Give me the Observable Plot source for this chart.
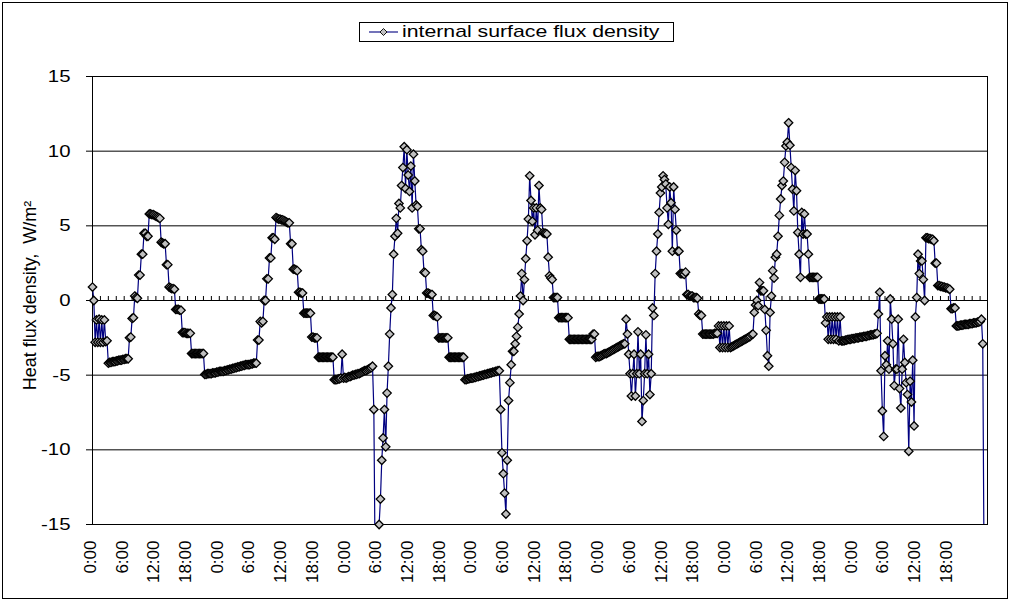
<!DOCTYPE html>
<html>
<head>
<meta charset="utf-8">
<script src="https://cdn.jsdelivr.net/npm/d3@7"></script>
<script src="https://cdn.jsdelivr.net/npm/@observablehq/plot@0.6"></script>
<style>
  html, body { margin: 0; padding: 0; background: #fff; }
  #chart { position: relative; width: 1010px; height: 602px; overflow: hidden;
           font-family: Arial, "Liberation Sans", sans-serif; }
  #chart > svg { position: absolute; left: 0; top: 0; }
  #border { position: absolute; left: 2px; top: 2px; width: 1006px; height: 597px;
            box-sizing: border-box; border: 1px solid #000; pointer-events: none; }
  #legend { position: absolute; left: 359px; top: 22px; width: 315px; height: 20px;
            box-sizing: border-box; border: 1px solid #000; background: #fff; }
  #legend svg { position: absolute; left: 0; top: 0; }
  #legend span { position: absolute; left: 42px; top: -1px; font-size: 17px; line-height: 20px;
                 white-space: nowrap; transform: scaleX(1.25); transform-origin: 0 50%; color: #000; }
</style>
</head>
<body>
<div id="chart">
  <div id="border"></div>
</div>
<script>
// ---- data: heat flux density (W/m²), one value every 15 minutes, per day ----
const sampleStepHours = 0.25;
const day1 = [
  0.9, 0, -2.8, -1.3, -2.8, -1.25, -2.8, -1.3,
  -2.8, -1.3, -2.75, -2.7, -4.2, -4.15, -4.15, -4.1,
  -4.1, -4.1, -4.05, -4.05, -4.0, -4.0, -4.0, -3.95,
  -3.95, -3.9, -3.9, -3.9, -2.5, -2.45, -1.2, -1.15,
  0.3, 0.2, 0.15, 1.7, 1.7, 3.1, 3.1, 4.5,
  4.5, 4.3, 4.3, 5.8, 5.8, 5.75, 5.75, 5.7,
  5.65, 5.6, 5.55, 5.5, 3.9, 3.85, 3.8, 3.8,
  2.4, 2.4, 0.9, 0.85, 0.8, 0.8, 0.75, -0.6,
  -0.6, -0.6, -0.65, -0.65, -2.15, -2.15, -2.15, -2.2,
  -2.2, -2.2, -2.2, -3.55, -3.55, -3.55, -3.55, -3.55,
  -3.55, -3.55, -3.55, -3.55, -3.55, -4.95, -4.95, -4.9,
  -4.9, -4.9, -4.9, -4.85, -4.85, -4.85, -4.8, -4.8];
const day2 = [
  -4.75, -4.75, -4.75, -4.75, -4.7, -4.7, -4.65, -4.65,
  -4.6, -4.6, -4.55, -4.55, -4.5, -4.5, -4.45, -4.45,
  -4.4, -4.4, -4.35, -4.35, -4.3, -4.3, -4.3, -4.3,
  -4.25, -4.25, -4.2, -4.2, -4.2, -2.65, -2.65, -1.4,
  -1.5, -1.4, 0, 0, 1.45, 1.45, 2.85, 2.85,
  4.2, 4.2, 4.1, 5.55, 5.5, 5.45, 5.45, 5.4,
  5.4, 5.35, 5.3, 5.25, 5.2, 5.2, 3.8, 3.8,
  2.1, 2.1, 2.05, 2.0, 0.55, 0.55, 0.5, 0.5,
  -0.85, -0.85, -0.85, -0.85, -0.85, -0.85, -2.45, -2.45,
  -2.5, -2.5, -2.5, -3.8, -3.8, -3.8, -3.8, -3.8,
  -3.8, -3.8, -3.8, -3.8, -3.8, -3.8, -3.8, -5.3,
  -5.3, -5.3, -5.25, -5.25, -5.2, -3.6, -5.2, -5.15];
const day3 = [
  -5.2, -5.15, -5.1, -5.1, -5.05, -5.0, -5.0, -4.95,
  -4.95, -4.9, -4.9, -4.85, -4.8, -4.75, -4.7, -4.7,
  -4.65, -4.6, -4.55, -4.5, -4.4, -7.3, -18, -18,
  -16, -15, -13.3, -10.7, -9.2, -7.3, -9.8, -6.2,
  -4.4, -2.25, -0.5, 0.4, 3.1, 4.3, 5.5, 4.5,
  6.5, 6.2, 7.7, 8.9, 10.3, 7.5, 10.1, 8.4,
  7.3, 9.0, 6.2, 9.8, 8.0, 6.4, 6.3, 4.8,
  4.8, 3.4, 3.3, 1.9, 1.85, 0.5, 0.5, 0.45,
  0.4, 0.4, -1.0, -1.0, -1.05, -1.1, -2.5, -2.5,
  -2.5, -2.5, -2.5, -2.5, -2.5, -2.5, -3.8, -3.8,
  -3.8, -3.8, -3.8, -3.8, -3.8, -3.8, -3.8, -3.8,
  -3.8, -3.8, -5.3, -5.3, -5.25, -5.25, -5.2, -5.2];
const day4 = [
  -5.2, -5.15, -5.15, -5.1, -5.1, -5.05, -5.05, -5.0,
  -5.0, -4.95, -4.95, -4.9, -4.9, -4.85, -4.85, -4.8,
  -4.8, -4.75, -4.75, -4.7, -4.7, -7.3, -10.2, -11.6,
  -12.9, -14.3, -10.7, -6.7, -5.5, -4.3, -3.4, -3.4,
  -2.9, -2.4, -1.8, -0.9, 0.3, 1.8, 0, 1.4,
  2.8, 4.0, 5.45, 8.35, 6.7, 5.3, 6.2, 4.4,
  6.2, 4.7, 7.7, 6.2, 6.1, 4.55, 4.5, 4.5,
  4.45, 2.9, 1.65, 1.5, 1.4, 0.2, 0.2, 0.2,
  0.2, -1.15, -1.15, -1.15, -1.15, -1.15, -1.15, -1.15,
  -1.15, -2.6, -2.6, -2.6, -2.6, -2.6, -2.6, -2.6,
  -2.6, -2.6, -2.6, -2.6, -2.6, -2.6, -2.6, -2.6,
  -2.6, -2.6, -2.6, -2.25, -2.25, -3.8, -3.75, -3.75];
const day5 = [
  -3.75, -3.7, -3.65, -3.6, -3.55, -3.55, -3.5, -3.45,
  -3.4, -3.35, -3.3, -3.25, -3.2, -3.15, -3.1, -3.05,
  -3.0, -2.95, -2.9, -2.9, -1.25, -2.25, -3.6, -4.9,
  -6.4, -4.9, -3.6, -6.4, -4.9, -2.1, -4.9, -3.6,
  -8.1, -6.7, -4.9, -2.3, -4.9, -3.6, -6.3, -4.9,
  -0.5, -1.0, 1.8, 3.3, 4.45, 5.9, 7.2, 7.6,
  8.35, 8.1, 7.8, 6.2, 5.1, 7.6, 6.55, 3.3,
  7.6, 6.1, 4.7, 3.3, 3.3, 1.8, 1.8, 1.8,
  1.75, 1.9, 0.4, 0.4, 0.3, 0.3, 0.3, 0.2,
  0.2, 0.2, 0.15, -0.9, -1.0, -1.0, -2.25, -2.25,
  -2.25, -2.25, -2.25, -2.25, -2.25, -2.25, -2.25, -2.2,
  -2.2, -2.2, -1.7, -3.15, -1.7, -3.15, -1.7, -3.15];
const day6 = [
  -1.7, -3.15, -1.7, -3.15, -3.1, -3.05, -3.0, -2.95,
  -2.9, -2.85, -2.8, -2.75, -2.7, -2.65, -2.6, -2.55,
  -2.5, -2.45, -2.4, -2.3, -2.25, -0.8, -0.3, 0,
  -0.35, 1.2, 0.65, 0.65, 0.65, -0.6, -2.0, -3.7,
  -4.4, -0.8, 0.3, 2.0, 1.5, 2.9, 3.1, 4.3,
  5.7, 6.8, 7.7, 8.0, 9.25, 10.35, 10.6, 11.9,
  10.4, 8.9, 7.45, 6.0, 8.7, 7.35, 4.55, 3.1,
  1.55, 5.9, 4.45, 5.8, 4.45, 4.45, 3.1, 1.55,
  1.55, 1.55, 1.55, 1.55, 1.55, 1.55, 0.1, 0.1,
  0.1, 0.1, 0.1, -1.5, -1.1, -2.6, -1.1, -2.6,
  -1.1, -2.6, -1.1, -2.6, -1.1, -2.7, -1.1, -2.7,
  -2.7, -2.7, -2.65, -2.65, -2.6, -2.6, -2.6, -2.55];
const day7 = [
  -2.55, -2.55, -2.5, -2.5, -2.5, -2.45, -2.45, -2.45,
  -2.4, -2.4, -2.4, -2.35, -2.35, -2.3, -2.3, -2.3,
  -2.25, -2.25, -2.2, -0.9, 0.55, -4.7, -7.4, -9.1,
  -3.7, -4.3, -2.7, -4.6, 0.1, -1.25, -2.9, -5.7,
  -4.6, -4.6, -1.25, -5.9, -7.2, -4.6, -2.6, -4.15,
  -5.5, -6.3, -10.1, -5.4, -6.8, -4.0, -8.4, -1.1,
  0.2, 3.1, 1.8, 2.65, 2.65, 1.4, 0, 4.2,
  4.2, 4.15, 4.15, 4.1, 4.1, 4.0, 2.5, 2.5,
  1.0, 1.0, 0.95, 0.95, 0.9, 0.9, 0.85, 0.85,
  0.8, 0.75, -0.55, -0.55, -0.5, -0.5, -1.7, -1.7,
  -1.7, -1.65, -1.65, -1.65, -1.6, -1.6, -1.6, -1.6,
  -1.55, -1.55, -1.55, -1.5, -1.5, -1.5, -1.45, -1.45,
  -1.4, -1.25, -2.9, -18];

// ---- axes ----
const yTicks = [-15, -10, -5, 0, 5, 10, 15];
const labelHours = [0, 6, 12, 18, 24, 30, 36, 42, 48, 54, 60, 66, 72, 78,
  84, 90, 96, 102, 108, 114, 120, 126, 132, 138, 144, 150, 156, 162];
const timeLabels = ["0:00", "6:00", "12:00", "18:00", "0:00", "6:00", "12:00", "18:00",
  "0:00", "6:00", "12:00", "18:00", "0:00", "6:00", "12:00", "18:00",
  "0:00", "6:00", "12:00", "18:00", "0:00", "6:00", "12:00", "18:00",
  "0:00", "6:00", "12:00", "18:00"];
const seriesName = "internal surface flux density";
const yTitle = "Heat flux density,  W/m²";

const fluxValues = [...day1, ...day2, ...day3, ...day4, ...day5, ...day6, ...day7];
const data = fluxValues.map((v, i) => ({t: i * sampleStepHours, v}));
const minorTicks = d3.range(0, 169.4, 1.5);

const font = 'Arial, "Liberation Sans", sans-serif';

const chart = Plot.plot({
  width: 1010,
  height: 602,
  marginLeft: 92,
  marginRight: 23,
  marginTop: 76,
  marginBottom: 78,
  style: {fontFamily: font, background: "transparent", color: "#000", overflow: "visible"},
  x: {type: "linear", domain: [0, 169.4], axis: null, label: null},
  y: {domain: [-15, 15], axis: null, label: null},
  marks: [
    Plot.ruleY(yTicks, {stroke: "#000", strokeWidth: 1, insetLeft: -6}),
    Plot.frame({stroke: "#000", strokeWidth: 1}),
    Plot.ruleX(minorTicks, {x: d => d, y1: 0, y2: 0, insetTop: -4, stroke: "#000", strokeWidth: 1}),
    Plot.line(data, {x: "t", y: "v", stroke: "#000080", strokeWidth: 1.2, clip: true}),
    Plot.dot(data, {filter: d => d.v >= -15, x: "t", y: "v", symbol: "diamond2", r: 3.8,
      fill: "#c0c0c0", stroke: "#000", strokeWidth: 1.3}),
    Plot.axisY({ticks: yTicks, tickSize: 0, tickPadding: 22, fontSize: 17, label: null,
      tickFormat: d => String(d)}),
    Plot.axisX({ticks: labelHours, tickSize: 0, tickPadding: 16, tickRotate: -90, fontSize: 17,
      label: null, dx: -2, tickFormat: d => timeLabels[labelHours.indexOf(d)]}),
    Plot.text([yTitle], {frameAnchor: "left", textAnchor: "middle", rotate: -90, dx: -62, dy: -5,
      fontSize: 18, ariaLabel: "y-title"})
  ]
});

document.getElementById("chart").prepend(chart);

// widen the horizontal tick labels like the original rendering
d3.select(chart).selectAll('g[aria-label="y-axis tick label"] text')
  .each(function () {
    const t = this.getAttribute("transform") || "";
    this.setAttribute("transform", t + " scale(1.2,1)");
  });
d3.select(chart).selectAll('g[aria-label="y-title"] text').style("letter-spacing", "0.8px");

// legend
const legend = document.createElement("div");
legend.id = "legend";
legend.innerHTML =
  '<svg width="42" height="18"><line x1="9" x2="38" y1="9" y2="9" stroke="#000080" stroke-width="1.1"/>' +
  '<path d="M23.5,5.5 L27,9 L23.5,12.5 L20,9Z" fill="#c0c0c0" stroke="#000" stroke-width="0.9"/></svg>';
const span = document.createElement("span");
span.textContent = seriesName;
legend.appendChild(span);
document.getElementById("chart").appendChild(legend);
</script>
</body>
</html>
